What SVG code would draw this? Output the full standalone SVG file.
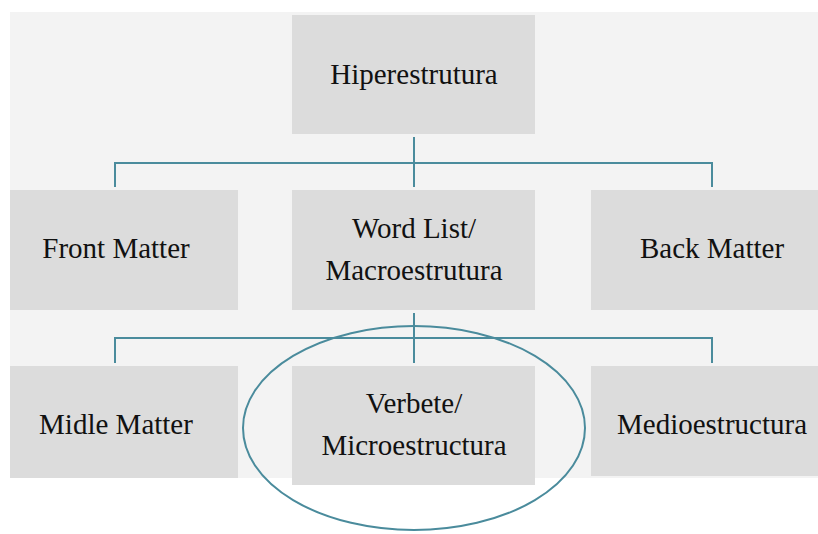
<svg xmlns="http://www.w3.org/2000/svg" width="818" height="534" viewBox="0 0 818 534">
<style>
.box{fill:#dcdcdc}
.t{font-family:"Liberation Serif","Times New Roman",serif;font-size:29px;fill:#111;text-anchor:middle}
.c{stroke:#4a8b9c;stroke-width:2;fill:none}
</style>
<rect x="0" y="0" width="818" height="534" fill="#ffffff"/>
<rect x="10" y="12" width="808" height="466" fill="#f3f3f3"/>
<g id="hiperestrutura"><rect class="box" x="292" y="15" width="243" height="119"/><text class="t" x="414" y="84">Hiperestrutura</text></g>
<g id="front-matter"><rect class="box" x="10" y="190" width="228" height="120"/><text class="t" x="116" y="258">Front Matter</text></g>
<g id="word-list"><rect class="box" x="292" y="190" width="243" height="120"/><text class="t" x="414" y="238">Word List/</text><text class="t" x="414" y="280">Macroestrutura</text></g>
<g id="back-matter"><rect class="box" x="591" y="190" width="227" height="120"/><text class="t" x="712" y="258">Back Matter</text></g>
<g id="midle-matter"><rect class="box" x="10" y="366" width="228" height="112"/><text class="t" x="116" y="434">Midle Matter</text></g>
<g id="verbete"><rect class="box" x="292" y="366" width="243" height="119"/><text class="t" x="414" y="413">Verbete/</text><text class="t" x="414" y="455">Microestructura</text></g>
<g id="medioestructura"><rect class="box" x="591" y="366" width="227" height="110"/><text class="t" x="712" y="434">Medioestructura</text></g>
<g id="connectors">
<path class="c" d="M414 137 V187 M115 187 V163 H712 V187"/>
<path class="c" d="M414 313 V363 M115 363 V338 H712 V363"/>
<ellipse class="c" cx="414" cy="428" rx="171" ry="102"/>
</g>
</svg>
